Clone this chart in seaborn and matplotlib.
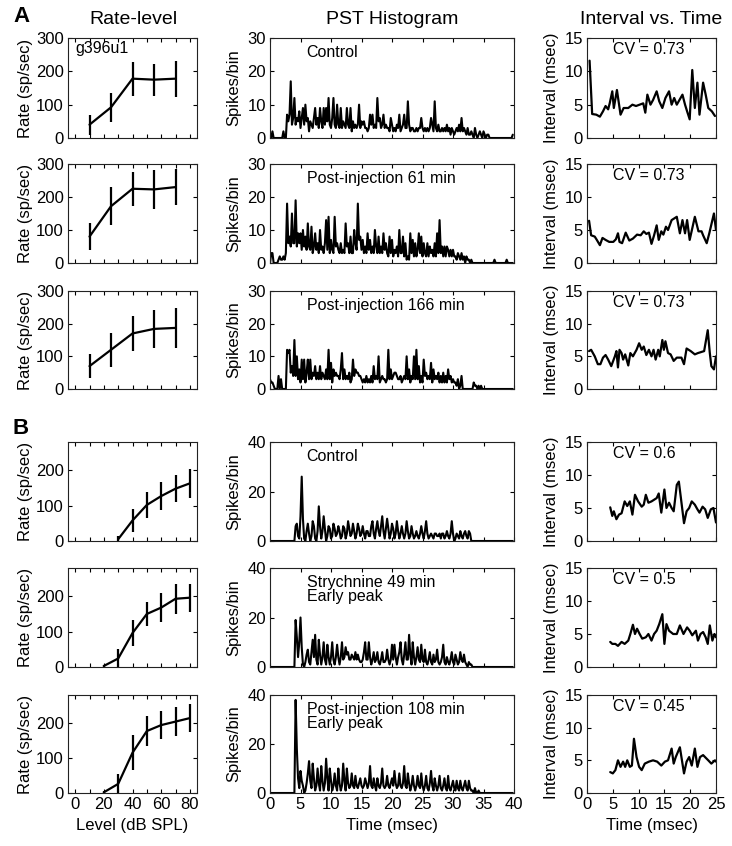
import numpy as np
import matplotlib
matplotlib.use("Agg")
import matplotlib.pyplot as plt
import seaborn as sns

# ---- rate-level data (dB SPL, sp/sec) ----
level_a = [10, 25, 40, 55, 70]
rate_a1 = [40, 92, 178, 175, 178]
err_a1 = [30, 44, 51, 48, 54]
rate_a2 = [80, 172, 225, 223, 230]
err_a2 = [40, 57, 52, 60, 55]
rate_a3 = [70, 120, 170, 184, 187]
err_a3 = [37, 52, 53, 58, 60]

level_b1 = [30, 40, 50, 60, 70, 80]
rate_b1 = [5, 58, 102, 127, 148, 163]
err_b1 = [10, 32, 38, 40, 38, 40]
level_b = [20, 30, 40, 50, 60, 70, 80]
rate_b2 = [3, 24, 96, 150, 168, 193, 196]
err_b2 = [4, 26, 36, 34, 41, 42, 40]
rate_b3 = [2, 26, 115, 177, 194, 204, 214]
err_b3 = [4, 28, 50, 43, 40, 41, 41]

# ---- PST histograms (0.2 ms bins, 0-40 ms) ----
pst_a1 = [0,0,2,0,0,0,0,0,0,0, 0,2,0,0,7,5,7,17,4,6, 12,4,6,5,8,3,6,9,4,10,
          5,6,2,5,4,3,6,9,4,6, 3,9,5,3,9,4,9,5,12,4, 3,6,12,4,3,10,4,3,9,3,
          5,4,3,9,4,3,9,2,5,3, 4,3,4,10,3,5,4,5,3,3, 2,3,7,4,7,3,4,3,12,5,
          6,3,4,7,3,4,3,3,2,6, 4,2,3,2,4,3,7,2,3,4, 7,3,3,11,4,2,3,3,2,2,
          3,2,3,3,6,3,2,3,2,3, 2,3,6,4,2,11,3,2,4,2, 2,3,2,3,2,4,2,3,1,3,
          2,1,2,3,2,4,2,6,2,3, 2,1,3,1,1,2,1,0,3,1, 0,1,2,1,0,2,1,0,1,1,
          0,0,0,0,0,0,0,0,0,0, 0,0,0,0,0,0,0,0,0,1]
pst_a2 = [0,3,3,0,0,0,0,1,2,1, 1,2,1,3,18,6,8,5,15,6, 6,19,5,9,6,9,4,10,5,8,
          4,12,5,4,11,3,5,9,4,6, 3,10,4,5,3,6,13,4,14,3, 7,4,3,14,5,6,4,3,6,3,
          4,3,12,5,6,3,8,3,3,10, 6,4,18,7,8,4,7,3,5,3, 9,4,7,3,5,3,10,5,3,8,
          3,5,3,9,4,6,3,2,8,3, 7,2,4,3,5,2,10,3,3,8, 2,6,1,2,1,9,3,7,2,6,
          2,4,9,3,8,2,6,3,2,6, 2,5,3,4,2,6,2,9,3,13, 3,5,2,5,2,5,4,2,4,2,
          4,2,2,1,3,2,1,3,1,2, 0,2,1,1,0,1,0,0,0,0, 0,0,0,0,0,0,0,0,0,0,
          0,0,0,0,1,0,0,0,0,0, 0,0,0,0,1,0,0,0,0,0]
pst_a3 = [3,2,2,1,0,0,0,4,0,3, 0,0,0,0,12,11,12,5,7,4, 15,4,10,3,6,2,9,3,9,2,
          5,9,3,9,3,5,4,7,3,5, 3,7,3,5,4,3,6,3,12,3, 8,2,6,4,5,4,4,3,6,11,
          3,6,3,4,3,5,2,3,9,4, 6,5,5,4,4,3,2,3,2,4, 2,3,2,4,2,7,3,4,3,10,
          2,3,4,3,3,2,3,12,3,6, 3,4,5,5,4,3,3,4,2,3, 4,3,10,3,6,2,4,3,10,3,
          12,3,7,2,4,2,9,4,5,3, 4,3,8,2,6,3,4,3,5,2, 4,2,5,2,4,2,6,3,4,2,
          3,2,2,1,3,0,1,4,0,0, 0,0,0,0,0,0,0,2,1,1, 0,1,0,1,0,0,0,0,0,0,
          0,0,0,0,0,0,0,0,0,0, 0,0,0,0,0,0,0,0,0,0]
pst_b1 = [0,0,0,0,0,0,0,0,0,0, 0,0,0,0,0,0,0,0,0,0, 0,6,7,2,1,10,26,9,1,0,
          4,7,3,0,2,8,6,1,0,4, 14,6,1,4,10,5,0,2,6,5, 1,2,7,5,2,3,6,4,1,2,
          6,5,1,3,8,5,2,3,7,4, 1,3,7,5,2,3,6,3,1,4, 4,2,2,6,8,3,1,5,8,4,
          2,6,10,4,1,5,9,5,1,3, 7,5,1,3,8,4,1,3,6,3, 1,3,8,4,1,2,6,3,1,2,
          4,2,1,3,6,3,1,4,8,3, 1,2,3,2,1,3,3,2,2,3, 1,3,3,1,2,4,2,1,3,8,
          3,0,1,3,2,1,4,2,1,3, 4,2,1,4,3,0,0,0,0,0, 0,0,0,0,0,0,0,0,0,0,
          0,0,0,0,0,0,0,0,0,0, 0,0,0,0,0,0,0,0,0,0]
pst_b2 = [0,0,0,0,0,0,0,0,0,0, 0,0,0,0,0,0,0,0,0,0, 0,19,12,4,10,20,8,1,0,2,
          5,7,2,1,6,11,4,13,3,1, 11,5,1,4,10,3,1,9,4,1, 4,10,3,1,4,9,4,1,4,10,
          3,4,8,5,6,3,3,5,4,3, 6,3,5,3,2,2,3,6,10,3, 3,10,4,1,3,6,2,3,6,2,
          1,3,6,2,2,3,7,3,1,3, 9,3,9,4,1,4,6,10,3,1, 5,10,3,3,13,5,1,10,4,1,
          4,8,3,2,9,3,2,7,2,1, 3,6,2,1,5,2,3,7,2,1, 2,4,9,2,1,4,2,1,3,6,
          2,1,5,3,1,2,6,3,2,5, 2,1,0,2,1,1,0,0,0,0, 0,0,0,0,0,0,0,0,0,0,
          0,0,0,0,0,0,0,0,0,0, 0,0,0,0,0,0,0,0,0,0]
pst_b3 = [0,0,0,0,0,0,0,0,0,0, 0,0,0,0,0,0,0,0,0,0, 0,38,18,6,2,9,5,3,0,1,
          4,8,13,5,2,12,6,1,3,10, 4,1,11,5,1,4,14,6,1,10, 5,1,3,8,3,1,10,4,1,3,
          12,5,1,10,4,2,3,8,3,2, 7,3,2,4,6,3,2,3,6,4, 2,4,11,3,2,6,3,1,6,3,
          2,4,10,3,2,3,7,3,2,4, 6,3,9,4,2,3,8,3,2,4, 11,3,2,8,4,1,3,7,3,1,
          3,7,3,2,8,3,1,3,7,2, 1,4,9,3,1,6,3,1,3,7, 2,1,3,6,2,1,7,2,1,3,
          5,2,1,5,2,1,5,2,1,3, 5,2,1,5,2,1,1,0,2,0, 0,1,0,0,0,0,0,0,0,0,
          0,0,0,0,0,0,0,0,0,0, 0,0,0,0,0,0,0,0,0,0]
bin_ms = 0.2

# ---- interval vs time (msec) ----
t_a1 = [0.5,1.0,1.8,2.5,3.1,3.6,4.1,4.4,4.9,5.2,5.8,6.5,7.1,8.0,8.8,9.5,10.9,11.3,11.7,12.3,12.8,
        13.5,14.0,14.6,15.2,15.9,16.4,16.9,17.4,18.5,19.0,19.4,19.9,20.4,20.9,21.4,21.8,22.5,23.0,
        23.5,24.2,24.8]
iv_a1 = [11.6,3.6,3.5,3.2,4.0,4.8,4.3,5.2,7.0,4.5,7.2,3.5,4.5,4.5,5.0,4.8,5.2,3.8,6.5,5.0,5.7,
         7.0,5.5,4.5,6.0,7.0,5.0,6.0,5.0,6.5,5.0,4.0,2.8,10.2,4.5,8.3,3.5,8.3,6.5,4.5,4.0,3.3]
t_a2 = [0.4,0.8,1.5,1.9,2.5,3.0,3.6,4.3,5.1,5.6,6.0,6.3,6.8,7.5,8.2,8.9,9.7,10.4,11.0,11.5,12.0,
        12.5,13.0,13.5,13.9,14.4,14.8,15.3,15.7,16.4,17.4,18.0,18.5,19.0,19.4,19.9,20.9,21.6,22.2,
        22.5,23.2,23.7,24.6,25.0]
iv_a2 = [6.4,4.2,4.0,3.5,2.7,3.8,3.5,3.2,3.2,3.6,4.5,3.2,3.0,4.6,3.4,3.7,4.3,4.2,4.8,4.4,4.6,
         2.9,4.2,5.7,3.5,4.8,4.3,5.5,5.0,6.5,7.0,4.5,6.5,4.5,6.5,3.5,7.0,4.8,4.8,4.2,3.0,4.5,7.5,5.0]
t_a3 = [0.4,0.8,1.5,2.1,2.6,3.1,3.6,4.1,4.7,5.4,5.7,6.0,6.3,6.7,7.0,7.4,8.0,8.4,8.9,9.6,10.1,
        10.6,11.0,11.5,12.0,12.5,12.9,13.3,13.8,14.1,14.6,14.9,15.2,15.7,16.2,16.8,17.4,18.3,18.8,
        19.3,20.1,20.9,21.5,22.7,23.4,23.8,24.1,24.6,25.0]
iv_a3 = [5.8,6.0,5.0,3.8,3.8,4.8,5.2,4.5,3.5,5.0,5.8,3.3,6.0,5.5,4.5,5.3,3.6,5.5,5.0,6.0,7.0,
         6.0,6.5,5.2,6.0,5.0,6.0,4.5,6.0,5.0,7.5,6.0,7.3,5.5,5.3,4.3,4.8,4.8,3.8,6.2,5.8,5.3,5.5,
         5.8,9.0,5.5,3.5,3.0,5.0]
t_b1 = [4.5,4.9,5.2,5.7,6.2,6.7,7.3,7.8,8.3,8.8,9.3,9.9,10.6,11.0,11.4,11.9,12.5,13.5,13.9,14.4,
        15.0,15.4,15.9,16.4,16.8,17.4,17.8,18.2,18.8,19.3,19.8,20.3,20.9,21.4,21.8,22.4,22.9,23.4,
        24.0,24.5,25.0]
iv_b1 = [5.1,3.8,4.5,3.3,4.0,4.2,6.0,5.3,6.0,4.0,7.0,6.0,5.2,5.5,7.0,5.8,6.0,6.5,7.2,4.3,7.8,
         5.0,5.8,5.0,4.5,8.5,9.0,6.5,2.7,4.5,5.0,6.0,5.5,4.8,4.3,5.2,4.8,3.5,4.8,5.0,2.8]
t_b2 = [4.5,4.9,5.5,6.0,6.7,7.3,8.0,8.4,8.9,9.3,9.7,10.2,10.7,11.4,11.9,12.5,13.0,13.5,14.0,14.6,
        15.0,15.4,15.9,16.7,17.4,18.0,18.7,19.4,19.9,20.4,21.1,21.5,22.0,22.5,23.0,23.4,23.8,24.3,
        24.7,25.0]
iv_b2 = [3.8,3.5,3.5,3.2,3.8,3.5,4.0,5.0,6.4,5.0,5.8,5.0,4.3,4.5,5.0,4.0,5.0,5.5,6.5,8.0,3.5,
         6.5,5.5,5.0,5.0,6.3,5.0,6.0,5.5,4.8,5.5,4.0,5.0,5.3,4.5,3.5,6.3,4.0,5.0,4.5]
t_b3 = [4.5,5.0,5.5,6.0,6.5,7.0,7.4,7.8,8.3,8.7,9.1,9.6,10.1,10.6,11.2,12.0,12.8,13.6,14.4,15.1,
        15.7,16.4,16.8,17.2,18.0,18.3,18.8,19.3,19.8,20.3,20.9,21.4,21.9,22.5,23.5,24.1,24.8,25.0]
iv_b3 = [3.2,3.0,3.5,5.0,4.0,4.8,4.0,5.0,4.0,4.2,8.3,5.5,4.0,3.5,4.5,4.8,5.0,4.8,4.2,4.8,5.0,
         6.8,4.5,5.5,7.0,5.5,3.0,4.8,5.5,4.2,6.8,4.0,5.5,5.8,5.0,4.5,5.0,4.8]

pst_labels = ["Control", "Post-injection 61 min", "Post-injection 166 min",
              "Control", "Strychnine 49 min\nEarly peak", "Post-injection 108 min\nEarly peak"]
cv_labels = ["CV = 0.73", "CV = 0.73", "CV = 0.73", "CV = 0.6", "CV = 0.5", "CV = 0.45"]

sns.set_style("ticks")
plt.rcParams['font.family'] = ['Liberation Sans', 'DejaVu Sans']
plt.rcParams['axes.linewidth'] = 0.8
plt.rcParams['text.color'] = 'k'
plt.rcParams['axes.labelcolor'] = 'k'
plt.rcParams['xtick.color'] = 'k'
plt.rcParams['ytick.color'] = 'k'

W, H = 732, 846
fig = plt.figure(figsize=(W / 100, H / 100), dpi=100)

def box(l, r, t, b):
    return fig.add_axes([l / W, 1 - b / H, (r - l) / W, (b - t) / H])

cols = [(68, 197), (270, 514), (587, 716)]
rows = [(38, 138), (164, 263), (291, 389), (442, 541), (568, 667), (695, 793)]

rl_data = [(level_a, rate_a1, err_a1), (level_a, rate_a2, err_a2), (level_a, rate_a3, err_a3),
           (level_b1, rate_b1, err_b1), (level_b, rate_b2, err_b2), (level_b, rate_b3, err_b3)]
pst_data = [pst_a1, pst_a2, pst_a3, pst_b1, pst_b2, pst_b3]
iv_data = [(t_a1, iv_a1), (t_a2, iv_a2), (t_a3, iv_a3), (t_b1, iv_b1), (t_b2, iv_b2), (t_b3, iv_b3)]

def style(ax, bottom):
    ax.tick_params(direction='in', top=True, right=True, length=3, width=0.8,
                   labelsize=12, pad=3, colors='k')
    for s in ax.spines.values():
        s.set_color('#222222')
    if not bottom:
        ax.set_xticklabels([])

for i, (t, b) in enumerate(rows):
    bottom = (i == 5)
    sec_a = i < 3

    # rate-level
    ax = box(*cols[0], t, b)
    lv, rt, er = rl_data[i]
    sns.lineplot(x=lv, y=rt, ax=ax, color='k', lw=1.6, estimator=None)
    ax.errorbar(lv, rt, yerr=er, fmt='none', ecolor='k', elinewidth=1.6, capsize=0)
    ax.set_xlim(-5, 85)
    ax.set_xticks(range(0, 90, 10))
    ax.set_xticklabels(['0', '', '20', '', '40', '', '60', '', '80'])
    if sec_a:
        ax.set_ylim(0, 300)
        ax.set_yticks([0, 100, 200, 300])
    else:
        ax.set_ylim(0, 280)
        ax.set_yticks([0, 100, 200])
    ax.set_ylabel("Rate (sp/sec)", fontsize=12, labelpad=2)
    style(ax, bottom)
    if bottom:
        ax.set_xlabel("Level (dB SPL)", fontsize=12)
    if i == 0:
        ax.text(0.06, 0.9, "g396u1", transform=ax.transAxes, fontsize=11.5, va='center')

    # PST histogram
    ax = box(*cols[1], t, b)
    counts = pst_data[i]
    tt = np.arange(len(counts)) * bin_ms
    sns.lineplot(x=tt, y=counts, ax=ax, color='k', lw=1.5, estimator=None)
    ax.set_xlim(0, 40)
    ax.set_xticks(range(0, 45, 5))
    if sec_a:
        ax.set_ylim(0, 30)
        ax.set_yticks([0, 10, 20, 30])
    else:
        ax.set_ylim(0, 40)
        ax.set_yticks([0, 20, 40])
    ax.set_ylabel("Spikes/bin", fontsize=12, labelpad=4)
    style(ax, bottom)
    if bottom:
        ax.set_xlabel("Time (msec)", fontsize=12)
    ax.text(0.15, 0.93, pst_labels[i], transform=ax.transAxes, fontsize=11.5,
            va='top', linespacing=0.95)

    # interval vs time
    ax = box(*cols[2], t, b)
    tx, iv = iv_data[i]
    sns.lineplot(x=tx, y=iv, ax=ax, color='k', lw=1.6, estimator=None)
    ax.set_xlim(0, 25)
    ax.set_xticks(range(0, 30, 5))
    ax.set_ylim(0, 15)
    ax.set_yticks([0, 5, 10, 15])
    ax.set_ylabel("Interval (msec)", fontsize=12, labelpad=4)
    style(ax, bottom)
    if bottom:
        ax.set_xlabel("Time (msec)", fontsize=12)
    ax.text(0.2, 0.88, cv_labels[i], transform=ax.transAxes, fontsize=11.5, va='center')

fig.text(133 / W, 1 - 20 / H, "Rate-level", fontsize=14, ha='center', va='center')
fig.text(392 / W, 1 - 20 / H, "PST Histogram", fontsize=14, ha='center', va='center')
fig.text(651 / W, 1 - 20 / H, "Interval vs. Time", fontsize=14, ha='center', va='center')
fig.text(13 / W, 1 - 17 / H, "A", fontsize=16, fontweight='bold', ha='left', va='center')
fig.text(13 / W, 1 - 428 / H, "B", fontsize=16, fontweight='bold', ha='left', va='center')

fig.savefig("out.png", dpi=100)
